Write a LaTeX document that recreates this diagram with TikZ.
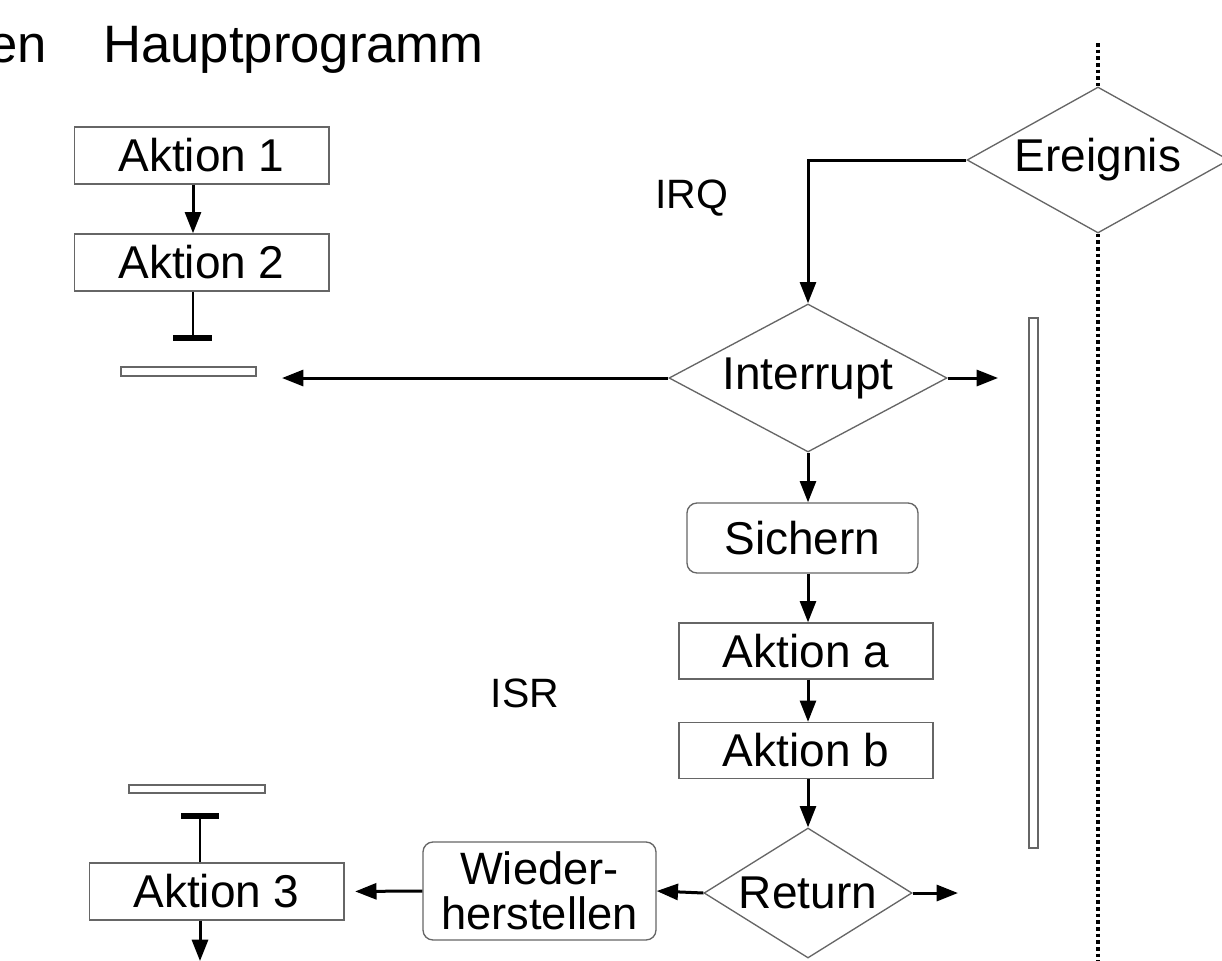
\documentclass[tikz,border=0pt]{standalone}
\usepackage{fontspec}
\setmainfont{Liberation Sans}
\usetikzlibrary{arrows.meta,shapes.geometric,calc}
\definecolor{boxgray}{HTML}{666666}
\begin{document}
\begin{tikzpicture}[x=0.75pt,y=-0.75pt,
  box/.style={draw=boxgray, line width=1pt, inner sep=0pt, minimum width=191pt, minimum height=42.75pt, font=\fontsize{34.5}{40}\selectfont},
  rbox/.style={box, rounded corners=7.5pt},
  dia/.style={diamond, draw=boxgray, line width=1pt, inner sep=0pt, font=\fontsize{34.5}{40}\selectfont},
  bar/.style={draw=boxgray, line width=0.9pt, inner sep=0pt},
  tip/.style={-{Triangle[length=16pt,width=12pt]}},
  arr/.style={line width=2.25pt, tip},
  thick line/.style={line width=2.25pt},
  thin line/.style={line width=1pt},
  tbar/.style={line width=4pt},
  dotline/.style={line width=3pt, dash pattern=on 2.8pt off 2.2pt},
  lbl/.style={font=\fontsize{30.75}{36}\selectfont, inner sep=0pt}]
\useasboundingbox (0,0) rectangle (1222,961);

% titles
\node[anchor=base east, font=\fontsize{39.5}{46}\selectfont, inner sep=0pt] (en) at (47,62) {en};
\node[anchor=base west, font=\fontsize{39.5}{46}\selectfont, inner sep=0pt] (hp) at (103,62) {Hauptprogramm};
\node[lbl] (irqlbl) at (692,198) {IRQ};
\node[lbl] (isrlbl) at (525,693) {ISR};

% main program
\node[box] (a1) at (201.5,155.5) {Aktion 1};
\node[box] (a2) at (201.5,262.5) {Aktion 2};
\node[box] (a3) at (216.5,891.5) {Aktion 3};

% ISR
\node[rbox, minimum width=173.25pt, minimum height=52.5pt] (sich) at (802.5,538) {Sichern};
\node[box, minimum width=190.5pt, minimum height=42pt] (aa) at (806,651) {Aktion a};
\node[box, minimum width=190.5pt, minimum height=42pt] (ab) at (806,750.5) {Aktion b};
\node[rbox, minimum width=174.75pt, minimum height=73.5pt, align=center, font=\fontsize{34}{33.75}\selectfont] (wh) at (539.5,891) {Wieder-\\herstellen};

% diamonds
\node[dia, shape aspect=1.8, minimum width=196.5pt, minimum height=109.5pt] (ev) at (1098,160) {Ereignis};
\node[dia, shape aspect=1.88, minimum width=208.5pt, minimum height=111pt] (irq) at (808,378) {Interrupt};
\node[dia, shape aspect=1.6, minimum width=156pt, minimum height=97.5pt] (ret) at (808,893) {Return};

% hollow bars
\node[bar, minimum width=101.25pt, minimum height=6.75pt] (h1) at (188.5,371.5) {};
\node[bar, minimum width=102pt, minimum height=6pt] (h2) at (197,789) {};
\node[bar, minimum width=6.75pt, minimum height=397.5pt] (v1) at (1033.5,583) {};

% coordinates
\coordinate (t1) at (193,338);
\coordinate (t1l) at (173,338);
\coordinate (t1r) at (212,338);
\coordinate (t2) at (200,816);
\coordinate (t2l) at (181,816);
\coordinate (t2r) at (219,816);
\coordinate (e3) at (200,961);
\coordinate (il) at (282,378);
\coordinate (ir) at (998,378);
\coordinate (rr) at (958,893);
\coordinate (dtop) at (1098,43);
\coordinate (dbot) at (1098,961);

% connectors main program
\draw[arr] (a1.south -| t1) -- (a2.north -| t1);
\draw[thin line] (a2.south -| t1) -- (t1);
\draw[tbar] (t1l) -- (t1r);
\draw[tbar] (t2l) -- (t2r);
\draw[thin line] (a3.north -| t2) -- (t2);
\draw[arr] (a3.south -| t2) -- (e3);

% IRQ
\draw[arr] (ev.west) -| (irq.north);
\draw[arr] (irq.west) -- (il);
\draw[arr] (irq.east) -- (ir);
\draw[arr] (irq.south) -- (irq.south |- sich.north);
\draw[arr] (sich.south -| irq.south) -- (aa.north -| irq.south);
\draw[arr] (aa.south -| irq.south) -- (ab.north -| irq.south);
\draw[arr] (ab.south -| irq.south) -- (ret.north);
\draw[arr] (ret.east) -- (rr);
\draw[arr] (ret.west) -- (wh.east);
\draw[arr, shorten >=8pt] (wh.west) -- (a3.east);

% dotted
\draw[dotline] (dtop) -- (ev.north);
\draw[dotline] (ev.south) -- (dbot);
\end{tikzpicture}
\end{document}
